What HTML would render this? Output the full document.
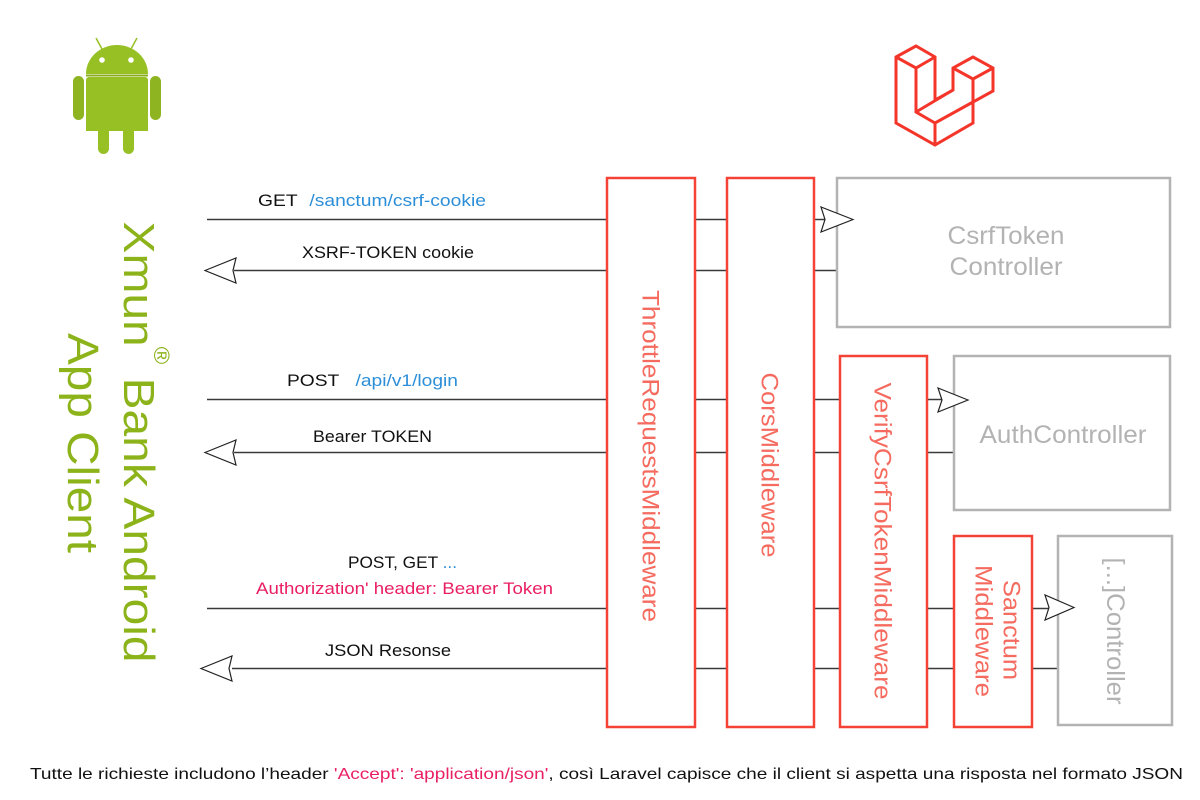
<!DOCTYPE html>
<html><head><meta charset="utf-8"><style>
html,body{margin:0;padding:0;background:#fff;}
svg{display:block;font-family:"Liberation Sans",sans-serif;}
</style></head><body>
<svg width="1200" height="800" viewBox="0 0 1200 800" xmlns="http://www.w3.org/2000/svg">
<rect width="1200" height="800" fill="#fff"/>
<!-- Android -->
<g fill="#97c024">
<path d="M86 74 A31 29 0 0 1 148 74 Z"/>
<rect x="86" y="77" width="62" height="54" rx="3"/>
<rect x="73" y="76" width="11" height="44" rx="5.5" fill="#8fb422"/>
<rect x="150" y="76" width="11" height="44" rx="5.5" fill="#8fb422"/>
<rect x="98" y="118" width="11" height="36" rx="5.5"/>
<rect x="123" y="118" width="11" height="36" rx="5.5"/>
<rect x="86" y="126" width="62" height="5"/>
</g>
<line x1="86" y1="75.5" x2="148" y2="75.5" stroke="#8aad20" stroke-width="2"/>
<line x1="96" y1="38" x2="102" y2="49" stroke="#97c024" stroke-width="1.5"/>
<line x1="137" y1="38" x2="131" y2="49" stroke="#97c024" stroke-width="1.5"/>
<circle cx="102" cy="60" r="2.8" fill="#fff"/><circle cx="131" cy="60" r="2.8" fill="#fff"/>
<!-- Laravel -->
<g fill="none" stroke="#f4362a" stroke-width="3" stroke-linejoin="miter">
<path d="M896 57 L916 46 L935 57 L935 100 L953 90 L953 68 L973 57 L993 68 L993 91 L973 102 L973 123 L935 145 L896 123 Z"/>
<path d="M896 57 L916 68 L935 57 M916 68 L916 112 L935 123 L973 102 M935 123 L935 145 M916 112 L953 90 M953 68 L973 79 L993 68 M973 79 L973 102"/>
</g>
<!-- Vertical title -->
<g fill="#8cb31a" font-size="44">
<text transform="translate(124,442) rotate(90)" text-anchor="middle" textLength="441" lengthAdjust="spacingAndGlyphs">Xmun<tspan font-size="22" dy="-30">®</tspan><tspan dy="30"> Bank Android</tspan></text>
<text transform="translate(68,443) rotate(90)" text-anchor="middle" textLength="220" lengthAdjust="spacingAndGlyphs">App Client</text>
</g>
<!-- connector lines -->
<g stroke="#3a3a3a" stroke-width="1.4">
<line x1="207" y1="219.5" x2="607" y2="219.5"/><line x1="695" y1="219.5" x2="727" y2="219.5"/><line x1="814" y1="219.5" x2="832" y2="219.5"/>
<line x1="234" y1="270.5" x2="607" y2="270.5"/><line x1="695" y1="270.5" x2="727" y2="270.5"/><line x1="814" y1="270.5" x2="836" y2="270.5"/>
<line x1="207" y1="399.5" x2="607" y2="399.5"/><line x1="695" y1="399.5" x2="727" y2="399.5"/><line x1="814" y1="399.5" x2="839" y2="399.5"/><line x1="927" y1="399.5" x2="946" y2="399.5"/>
<line x1="234" y1="452.5" x2="607" y2="452.5"/><line x1="695" y1="452.5" x2="727" y2="452.5"/><line x1="814" y1="452.5" x2="839" y2="452.5"/><line x1="927" y1="452.5" x2="953" y2="452.5"/>
<line x1="207" y1="608.5" x2="607" y2="608.5"/><line x1="695" y1="608.5" x2="727" y2="608.5"/><line x1="814" y1="608.5" x2="839" y2="608.5"/><line x1="927" y1="608.5" x2="953" y2="608.5"/><line x1="1032" y1="608.5" x2="1052" y2="608.5"/>
<line x1="232" y1="668.5" x2="607" y2="668.5"/><line x1="695" y1="668.5" x2="727" y2="668.5"/><line x1="814" y1="668.5" x2="839" y2="668.5"/><line x1="927" y1="668.5" x2="953" y2="668.5"/><line x1="1032" y1="668.5" x2="1057" y2="668.5"/>
</g>
<!-- boxes -->
<g fill="none" stroke-width="2.5">
<rect x="837" y="178" width="333" height="149" stroke="#b3b3b3"/>
<rect x="954" y="356" width="216" height="154" stroke="#b3b3b3"/>
<rect x="1058" y="536" width="114" height="189" stroke="#b3b3b3"/>
<rect x="607" y="178" width="88" height="549" stroke="#f44336"/>
<rect x="727" y="178" width="87" height="549" stroke="#f44336"/>
<rect x="840" y="356" width="87" height="371" stroke="#f44336"/>
<rect x="954" y="536" width="78" height="191" stroke="#f44336"/>
</g>
<!-- arrowheads -->
<g fill="#fff" stroke="#222" stroke-width="1.2" stroke-linejoin="miter">
<path d="M853 219.5 L821 207 L825 219.5 L821 232 Z"/>
<path d="M968 400 L938 388 L942 400 L938 412 Z"/>
<path d="M1074 607.5 L1045 595 L1049 607.5 L1045 620 Z"/>
<path d="M205 270.5 L236 258 L233 270.5 L236 283 Z"/>
<path d="M205 452.5 L236 440 L233 452.5 L236 465 Z"/>
<path d="M201 668.5 L232 656 L229 668.5 L232 681 Z"/>
</g>
<!-- box labels -->
<g font-size="25" fill="#b3b3b3" text-anchor="middle">
<text x="1006" y="244" textLength="117" lengthAdjust="spacingAndGlyphs">CsrfToken</text>
<text x="1006" y="275" textLength="113" lengthAdjust="spacingAndGlyphs">Controller</text>
<text x="1063" y="443" textLength="167" lengthAdjust="spacingAndGlyphs">AuthController</text>
<text transform="translate(1115,631) rotate(90)" dominant-baseline="central" textLength="147" lengthAdjust="spacingAndGlyphs">[...]Controller</text>
</g>
<g font-size="24" fill="#f56b5f" text-anchor="middle" dominant-baseline="central">
<text transform="translate(650,456) rotate(90)" textLength="332" lengthAdjust="spacingAndGlyphs">ThrottleRequestsMiddleware</text>
<text transform="translate(769,465) rotate(90)" textLength="185" lengthAdjust="spacingAndGlyphs">CorsMiddleware</text>
<text transform="translate(882,541) rotate(90)" textLength="317" lengthAdjust="spacingAndGlyphs">VerifyCsrfTokenMiddleware</text>
<text transform="translate(1011,630) rotate(90)" textLength="100" lengthAdjust="spacingAndGlyphs">Sanctum</text>
<text transform="translate(983,631) rotate(90)" textLength="132" lengthAdjust="spacingAndGlyphs">Middleware</text>
</g>
<!-- connector labels -->
<g font-size="17" fill="#111">
<text x="258" y="206" textLength="228" lengthAdjust="spacingAndGlyphs">GET <tspan fill="#2d8fd8" dx="6">/sanctum/csrf-cookie</tspan></text>
<text x="302" y="258" textLength="172" lengthAdjust="spacingAndGlyphs">XSRF-TOKEN cookie</text>
<text x="287" y="386" textLength="171" lengthAdjust="spacingAndGlyphs">POST <tspan fill="#2d8fd8" dx="10">/api/v1/login</tspan></text>
<text x="313" y="442" textLength="119" lengthAdjust="spacingAndGlyphs">Bearer TOKEN</text>
<text x="348" y="568" textLength="109" lengthAdjust="spacingAndGlyphs">POST, GET <tspan fill="#2d8fd8">...</tspan></text>
<text x="256" y="594" fill="#e91e63" textLength="297" lengthAdjust="spacingAndGlyphs">Authorization' header: Bearer Token</text>
<text x="325" y="656" textLength="126" lengthAdjust="spacingAndGlyphs">JSON Resonse</text>
</g>
<text x="30" y="779" font-size="16" fill="#111" textLength="1153" lengthAdjust="spacingAndGlyphs">Tutte le richieste includono l’header <tspan fill="#e91e63">'Accept': 'application/json'</tspan>, così Laravel capisce che il client si aspetta una risposta nel formato JSON</text>
</svg>
</body></html>
